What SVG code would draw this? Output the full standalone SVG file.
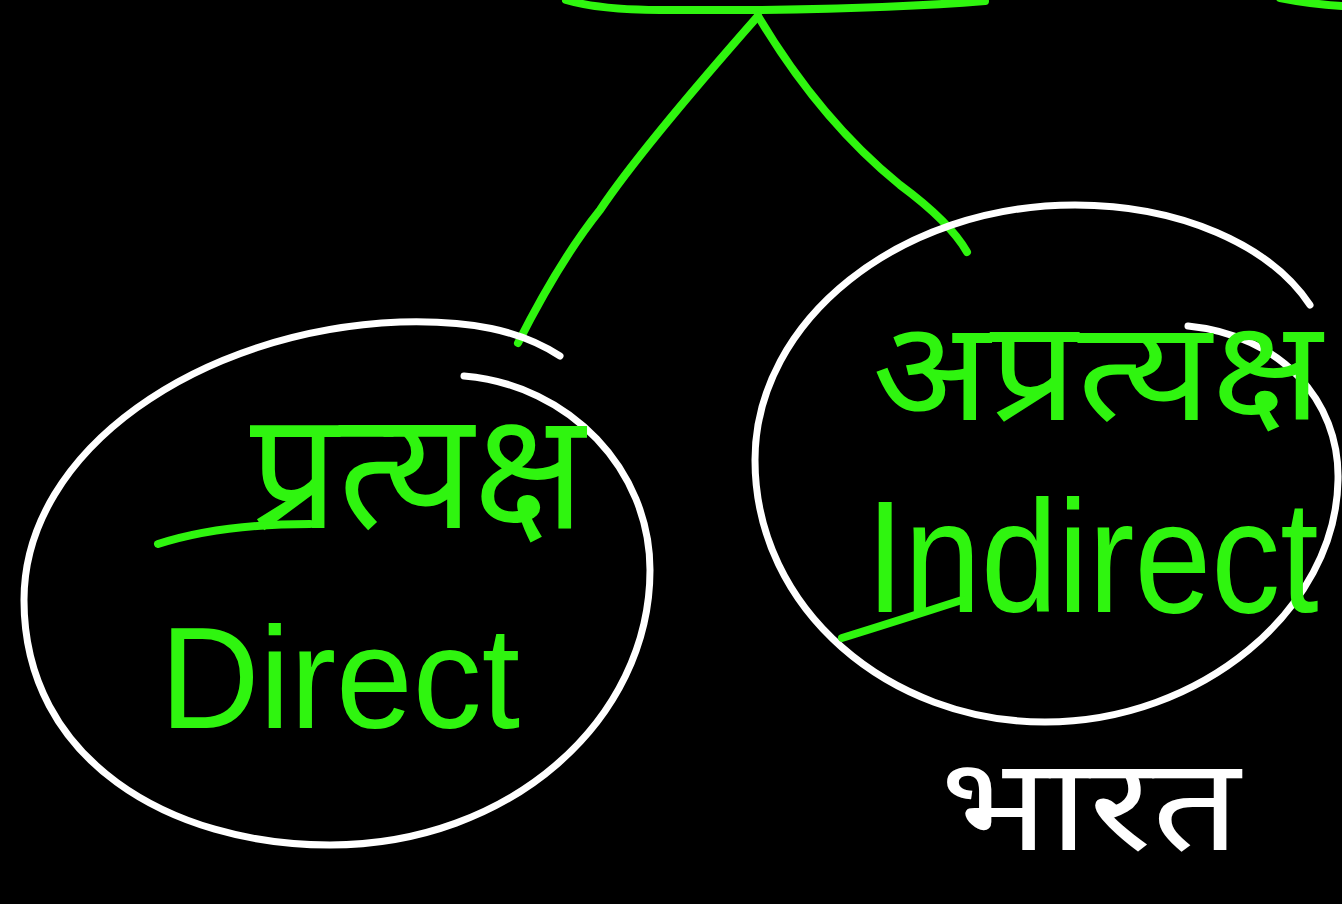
<svg xmlns="http://www.w3.org/2000/svg" width="1342" height="904" viewBox="0 0 1342 904">
<style>
.g{fill:none;stroke:#2ff50f;stroke-width:8;stroke-linecap:round;stroke-linejoin:round}
.w{fill:none;stroke:#ffffff;stroke-width:7;stroke-linecap:round}
.gt{fill:#2ff50f;font-family:"Liberation Sans","Noto Sans",sans-serif}
.wt{fill:#ffffff;font-family:"Noto Sans","Liberation Sans",sans-serif}
</style>
<rect width="1342" height="904" fill="#000"/>
<g id="top">
<path class="g" d="M566 0 Q600 10 660 10 L760 10 Q900 8 985 1"/>
<path class="g" d="M1280 -2 Q1310 4 1342 6"/>
</g>
<g id="connectors">
<path class="g" d="M758 16 Q640 150 600 210 Q560 260 518 343"/>
<path class="g" d="M758 16 Q820 120 900 185 Q950 222 967 252"/>
</g>
<g id="direct">
<path class="w" d="M560 356 C520 330 470 320 400 322 C200 330 24 450 24 600 C24 760 170 845 330 845 C510 845 650 720 650 570 C650 470 570 385 464 376"/>
<text class="gt" x="250" y="528" font-size="165" textLength="335" lengthAdjust="spacingAndGlyphs">प्रत्यक्ष</text>
<path class="g" d="M158 544 Q220 524 310 524"/>
<text class="gt" x="160" y="728" font-size="145" textLength="360" lengthAdjust="spacingAndGlyphs">Direct</text>
</g>
<g id="indirect">
<path class="w" d="M1310 305 C1270 245 1180 205 1075 205 C900 205 755 320 755 460 C755 610 890 722 1045 722 C1200 722 1336 610 1338 480 C1340 400 1280 335 1188 326"/>
<text class="gt" x="872" y="420" font-size="140" textLength="450" lengthAdjust="spacingAndGlyphs">अप्रत्यक्ष</text>
<text class="gt" transform="translate(866 612) scale(1 1.15)" x="0" y="0" font-size="138">Indirect</text>
<path class="g" d="M842 638 Q900 620 962 600"/>
</g>
<g id="bharat">
<text class="wt" x="940" y="850" font-size="130" textLength="300" lengthAdjust="spacingAndGlyphs">भारत</text>
</g>
</svg>
